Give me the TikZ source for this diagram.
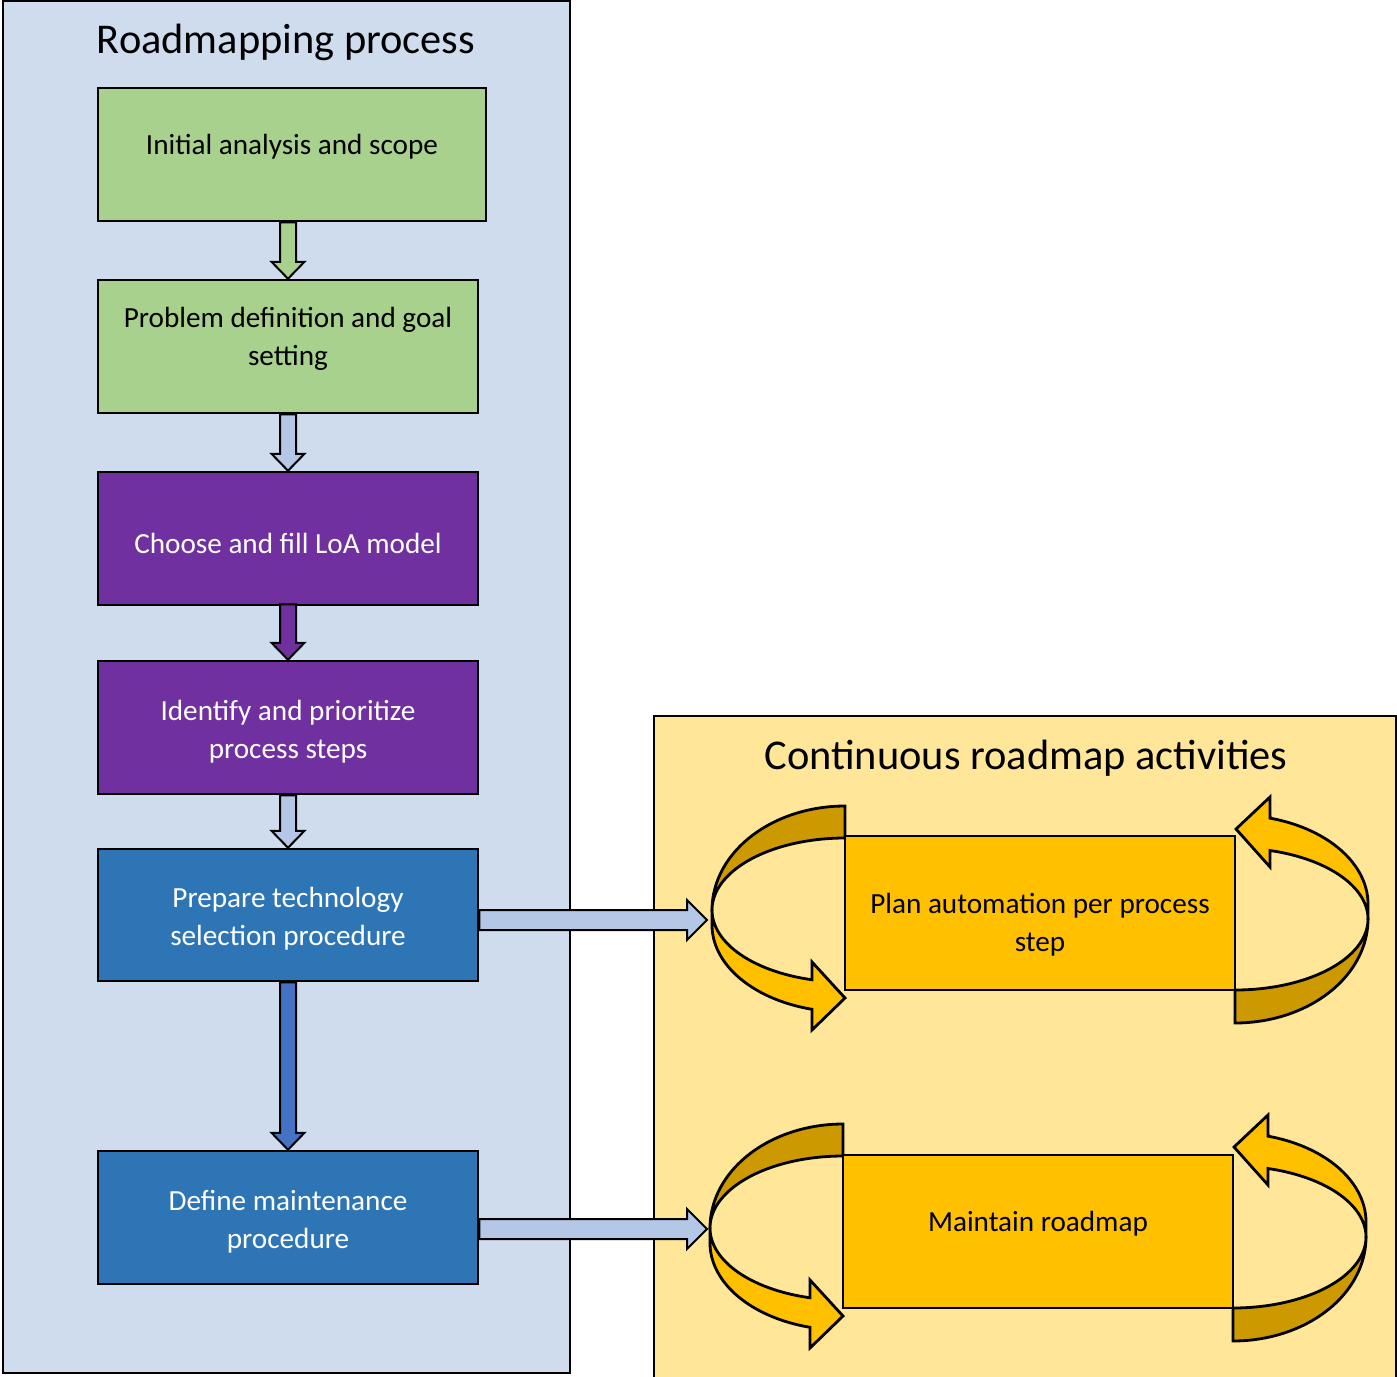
\documentclass[tikz,border=0pt]{standalone}
\usepackage{fontspec}
\setmainfont{Carlito}
\usetikzlibrary{calc}
\definecolor{panelblue}{HTML}{CFDCEE}
\definecolor{panelyellow}{HTML}{FFE699}
\definecolor{stepgreen}{HTML}{A9D18E}
\definecolor{steppurple}{HTML}{7030A0}
\definecolor{stepblue}{HTML}{2E75B6}
\definecolor{actorange}{HTML}{FFC000}
\definecolor{actdark}{HTML}{CC9900}
\definecolor{arrlight}{HTML}{B4C7E7}
\definecolor{arrblue}{HTML}{4472C4}

% vertical block arrow: style, start point, tip point
\newcommand\vblock[3]{%
  \draw[#1] ($(#2)+(-8,0)$) -- ($(#3)+(-8,-17)$) -- ($(#3)+(-16.5,-17)$) -- (#3)
    -- ($(#3)+(16.5,-17)$) -- ($(#3)+(8,-17)$) -- ($(#2)+(8,0)$) -- cycle;}
% horizontal block arrow: start point, tip point
\newcommand\hblock[2]{%
  \draw[harrow] ($(#1)+(0,-10)$) -- ($(#2)+(-20,-10)$) -- ($(#2)+(-20,-20)$) -- (#2)
    -- ($(#2)+(-20,20)$) -- ($(#2)+(-20,10)$) -- ($(#1)+(0,10)$) -- cycle;}
% looping ribbon arrows around an activity box
\newcommand\leftloop{%
  \draw[loopback] plot[domain=270:180,samples=60] ({133*cos(\x)},{104*sin(\x)})
    -- plot[domain=180:270,samples=60] ({133*cos(\x)},{72*sin(\x)}) -- cycle;}
\newcommand\leftloopfront{%
  \draw[loopfront] (-133,0) -- plot[domain=180:104.4,samples=60] ({133*cos(\x)},{15+87*sin(\x)})
    -- (-33,120) -- (0,88) -- (-33,52)
    -- plot[domain=104.4:180,samples=60] ({133*cos(\x)},{72*sin(\x)}) -- cycle;}
\newcommand\rightloop{%
  \draw[loopback] plot[domain=90:0,samples=60] ({133*cos(\x)},{104*sin(\x)})
    -- plot[domain=0:90,samples=60] ({133*cos(\x)},{71*sin(\x)}) -- cycle;}
\newcommand\rightloopfront{%
  \draw[loopfront] (133,0) -- plot[domain=0:-74.7,samples=60] ({133*cos(\x)},{-15+89*sin(\x)})
    -- (35,-122) -- (1,-90) -- (35,-52)
    -- plot[domain=-74.7:0,samples=60] ({133*cos(\x)},{71*sin(\x)}) -- cycle;}

\begin{document}
\begin{tikzpicture}[x=0.5pt,y=-0.5pt,
  panel/.style={draw=black,line width=1pt},
  stepbox/.style={draw=black,line width=1.25pt,minimum width=190pt,minimum height=66.5pt,inner sep=0pt},
  actbox/.style={draw=black,line width=1.25pt,fill=actorange,minimum width=195pt,minimum height=77pt,inner sep=0pt},
  txt/.style={align=center,font=\fontsize{14.6}{19}\selectfont,inner sep=0pt},
  wtxt/.style={txt,text=white},
  ttl/.style={font=\fontsize{21.2}{25}\selectfont,inner sep=0pt},
  varrow/.style={draw=black,line width=1pt,fill=#1},
  harrow/.style={draw=black,line width=1pt,fill=arrlight},
  loopback/.style={draw=black,line width=1.4pt,fill=actdark},
  loopfront/.style={draw=black,line width=1.4pt,fill=actorange}]
\useasboundingbox (0,0) rectangle (1397,1376);
\fill[white] (0,0) rectangle (1397,1376);

% panels
\draw[panel,fill=panelblue] (3,1) rectangle (570,1373);
\draw[panel,fill=panelyellow] (654,716) rectangle (1396,1390);
\node[ttl] (title1) at (286,42) {Roadmapping process};
\node[ttl] (title2) at (1026,758) {Continuous roadmap activities};

% roadmapping steps
\node[stepbox,fill=stepgreen,minimum width=194pt] (b1) at (292,154.5) {};
\node[stepbox,fill=stepgreen] (b2) at (288,346.5) {};
\node[stepbox,fill=steppurple] (b3) at (288,538.5) {};
\node[stepbox,fill=steppurple] (b4) at (288,727.5) {};
\node[stepbox,fill=stepblue,minimum height=66pt] (b5) at (288,915) {};
\node[stepbox,fill=stepblue] (b6) at (288,1217.5) {};
\node[txt] (t1) at (292,147) {Initial analysis and scope};
\node[txt] (t2) at (288,339) {Problem definition and goal\\setting};
\node[wtxt] (t3) at (288,543) {Choose and fill LoA model};
\node[wtxt] (t4) at (288,732) {Identify and prioritize\\process steps};
\node[wtxt] (t5) at (288,919) {Prepare technology\\selection procedure};
\node[wtxt] (t6) at (288,1222) {Define maintenance\\procedure};

% arrows between steps
\coordinate (a1s) at (b1.south -| b2.north);
\coordinate (a3s) at ($(b3.south)+(0,-2)$);
\vblock{varrow=stepgreen}{a1s}{b2.north}
\vblock{varrow=arrlight}{b2.south}{b3.north}
\vblock{varrow=steppurple}{a3s}{b4.north}
\vblock{varrow=arrlight}{b4.south}{b5.north}
\vblock{varrow=arrblue}{b5.south}{b6.north}

% continuous activities with looping arrows
\begin{scope}[shift={(845,910)}]\leftloop\end{scope}
\begin{scope}[shift={(1235,919)}]\rightloop\end{scope}
\node[actbox] (p1) at (1040,913) {};
\begin{scope}[shift={(845,910)}]\leftloopfront\end{scope}
\begin{scope}[shift={(1235,919)}]\rightloopfront\end{scope}
\node[txt] (tp1) at (1040,925) {Plan automation per process\\step};

\begin{scope}[shift={(843,1228)}]\leftloop\end{scope}
\begin{scope}[shift={(1233,1237)}]\rightloop\end{scope}
\node[actbox,minimum height=76.5pt] (p2) at (1038,1231.5) {};
\begin{scope}[shift={(843,1228)}]\leftloopfront\end{scope}
\begin{scope}[shift={(1233,1237)}]\rightloopfront\end{scope}
\node[txt] (tp2) at (1038,1224) {Maintain roadmap};

% hand-over arrows into the activity loops
\coordinate (h1e) at (707,920);
\coordinate (h1s) at (b5.east |- h1e);
\coordinate (h2e) at (707,1229);
\coordinate (h2s) at (b6.east |- h2e);
\hblock{h1s}{h1e}
\hblock{h2s}{h2e}
\end{tikzpicture}
\end{document}
